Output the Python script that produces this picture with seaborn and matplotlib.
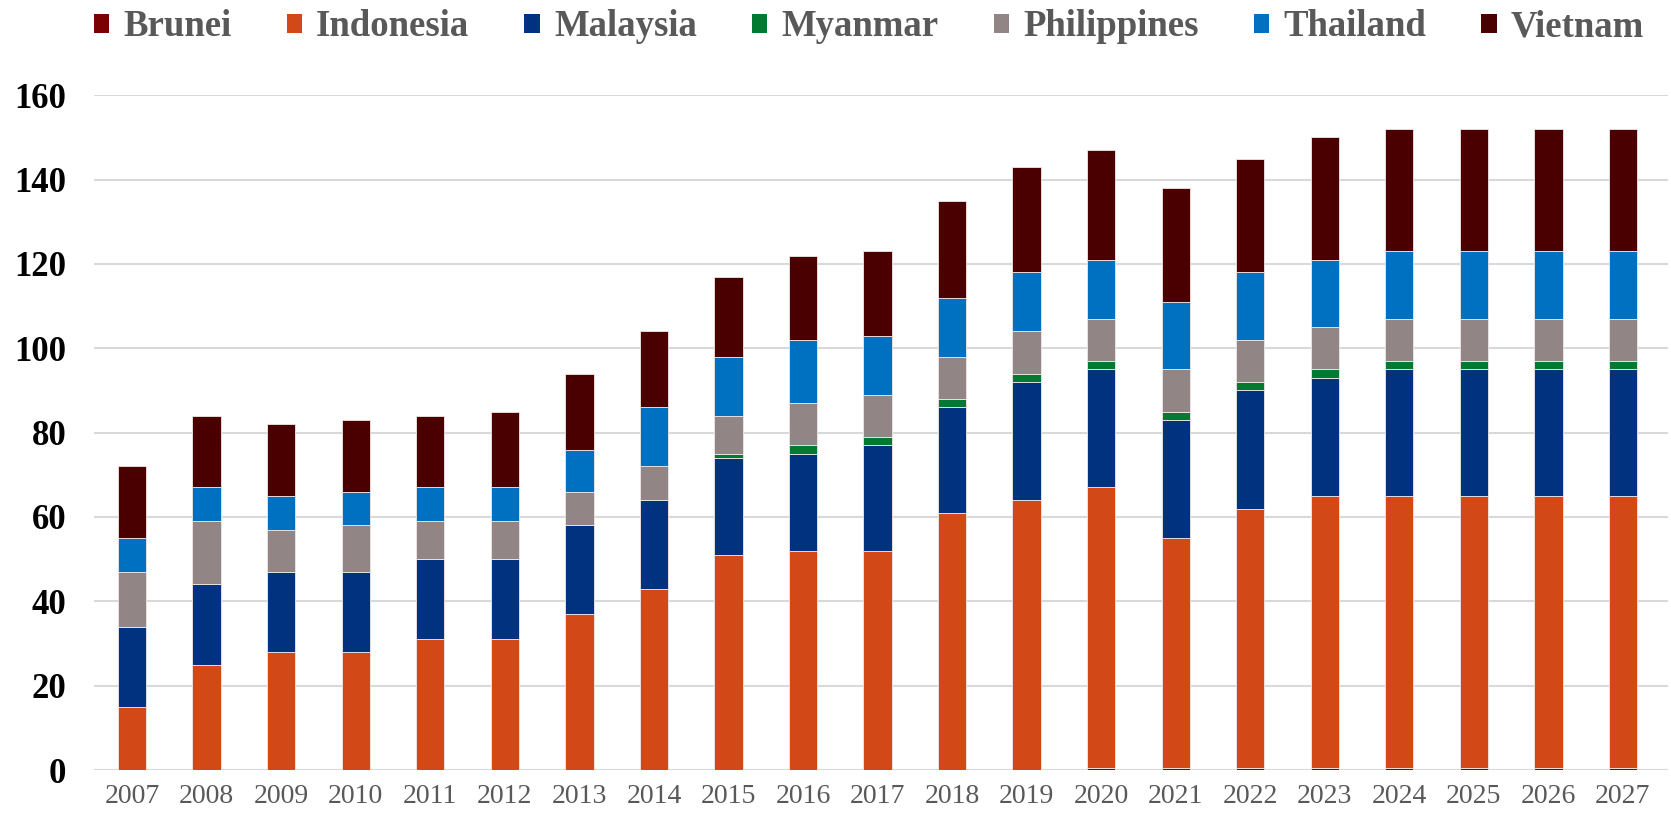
import numpy as np
import pandas as pd
import matplotlib
matplotlib.use("Agg")
import matplotlib.pyplot as plt
import seaborn as sns
from matplotlib.patches import Patch

# -----------------------------
# 데이터
# -----------------------------
years = [str(y) for y in range(2007, 2028)]

brunei = [0, 0, 0, 0, 0, 0, 0, 0, 0, 0, 0, 0, 0,
          0.6, 0.6, 0.6, 0.6, 0.6, 0.6, 0.6, 0.6]
indonesia = [15, 25, 28, 28, 31, 31, 37, 43, 51, 52, 52, 61, 64,
             66.4, 54.4, 61.4, 64.4, 64.4, 64.4, 64.4, 64.4]
malaysia = [19, 19, 19, 19, 19, 19, 21, 21, 23, 23, 25, 25, 28,
            28, 28, 28, 28, 30, 30, 30, 30]
myanmar = [0, 0, 0, 0, 0, 0, 0, 0, 1, 2, 2, 2, 2,
           2, 2, 2, 2, 2, 2, 2, 2]
philippines = [13, 15, 10, 11, 9, 9, 8, 8, 9, 10, 10, 10, 10,
               10, 10, 10, 10, 10, 10, 10, 10]
thailand = [8, 8, 8, 8, 8, 8, 10, 14, 14, 15, 14, 14, 14,
            14, 16, 16, 16, 16, 16, 16, 16]
vietnam = [17, 17, 17, 17, 17, 18, 18, 18, 19, 20, 20, 23, 25,
           26, 27, 27, 29, 29, 29, 29, 29]

countries = ["Brunei", "Indonesia", "Malaysia", "Myanmar",
             "Philippines", "Thailand", "Vietnam"]
series = [brunei, indonesia, malaysia, myanmar, philippines, thailand, vietnam]
colors = ["#7B0000", "#D34817", "#00327F", "#007A33",
          "#918685", "#0070C0", "#4A0000"]

# -----------------------------
# 그림
# -----------------------------
sns.set_style("white")
plt.rcParams["font.family"] = ["Liberation Serif", "DejaVu Serif"]

fig = plt.figure(figsize=(16.71, 8.14), dpi=100)
ax = fig.add_axes([0.0563, 0.054, 0.9417, 0.829])

bottom = np.zeros(len(years))
for name, vals, col in zip(countries, series, colors):
    df = pd.DataFrame({"year": years, "value": vals})
    sns.barplot(data=df, x="year", y="value", order=years, color=col,
                saturation=1, width=0.38, bottom=bottom, edgecolor="#f0e8e8",
                linewidth=0.6, ax=ax, zorder=3)
    bottom = bottom + np.array(vals)

ax.set_ylim(0, 160)
ax.set_xlim(-0.51, 20.6)
ax.set_yticks(range(0, 161, 20))
ax.yaxis.grid(True, color="#d9d9d9", linewidth=1.5, zorder=0)
ax.xaxis.grid(False)
ax.set_axisbelow(True)
for s in ax.spines.values():
    s.set_visible(False)
ax.set_xlabel("")
ax.set_ylabel("")
ax.tick_params(axis="y", length=0, pad=20, labelsize=25)
ax.tick_params(axis="x", length=0, pad=10, labelsize=20, labelcolor="#595959")
for lab in ax.get_yticklabels():
    lab.set_fontweight("bold")
    lab.set_color("black")

handles = [Patch(facecolor=c, edgecolor="none") for c in colors]
leg = fig.legend(handles, countries, loc="center", bbox_to_anchor=(0.52, 0.967),
                 ncol=7, frameon=False, prop={"size": 26.5, "weight": "bold"},
                 handlelength=0.42, handleheight=0.42, handletextpad=0.38,
                 columnspacing=1.5, labelcolor="#595959")

fig.savefig("out.png", dpi=100)
plt.close(fig)
